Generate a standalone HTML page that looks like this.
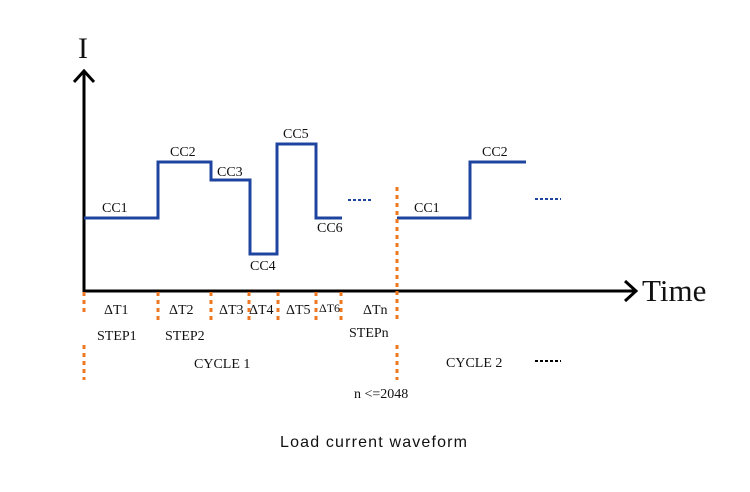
<!DOCTYPE html>
<html><head><meta charset="utf-8"><style>
html,body{margin:0;padding:0;background:#fff;}
svg{display:block;}
.s{font-family:"Liberation Serif",serif;fill:#111;}
</style></head><body>
<svg width="750" height="492" viewBox="0 0 750 492" xmlns="http://www.w3.org/2000/svg">
<!-- axes -->
<line x1="84" y1="72" x2="84" y2="292" stroke="#000" stroke-width="3"/>
<polyline points="74,82 84,71 94,82" fill="none" stroke="#000" stroke-width="3"/>
<line x1="83" y1="291" x2="635" y2="291" stroke="#000" stroke-width="3"/>
<polyline points="625,281 636,291 625,301" fill="none" stroke="#000" stroke-width="3"/>
<text x="78" y="58" class="s" font-size="30">I</text>
<text x="642" y="301" class="s" font-size="31">Time</text>
<!-- waveform -->
<polyline points="84,218 158,218 158,162 211,162 211,180 250,180 250,254 277,254 277,144 316,144 316,218 342,218" fill="none" stroke="#1f44a0" stroke-width="3"/>
<polyline points="397,218 470,218 470,162 526,162" fill="none" stroke="#1f44a0" stroke-width="3"/>
<line x1="348" y1="200" x2="373" y2="200" stroke="#1f44a0" stroke-width="2" stroke-dasharray="3,2"/>
<line x1="535" y1="199" x2="561" y2="199" stroke="#1f44a0" stroke-width="2" stroke-dasharray="3,2"/>
<line x1="535" y1="361" x2="561" y2="361" stroke="#000" stroke-width="2" stroke-dasharray="3,2"/>
<!-- orange dashes -->
<g stroke="#ee7722" stroke-width="3" stroke-dasharray="4,4">
<line x1="84" y1="292" x2="84" y2="312"/>
<line x1="84" y1="345" x2="84" y2="380"/>
<line x1="158" y1="292" x2="158" y2="321"/>
<line x1="211" y1="292" x2="211" y2="321"/>
<line x1="249" y1="292" x2="249" y2="321"/>
<line x1="278" y1="292" x2="278" y2="321"/>
<line x1="316" y1="292" x2="316" y2="321"/>
<line x1="341" y1="292" x2="341" y2="321"/>
<line x1="397" y1="187" x2="397" y2="321"/>
<line x1="397" y1="345" x2="397" y2="380"/>
</g>
<!-- labels -->
<g class="s" font-size="14">
<text x="102" y="212">CC1</text>
<text x="170" y="156">CC2</text>
<text x="217" y="176">CC3</text>
<text x="250" y="270">CC4</text>
<text x="283" y="138">CC5</text>
<text x="317" y="232">CC6</text>
<text x="414" y="212">CC1</text>
<text x="482" y="156">CC2</text>
<text x="104" y="314">ΔT1</text>
<text x="169" y="314">ΔT2</text>
<text x="219" y="314">ΔT3</text>
<text x="249" y="314">ΔT4</text>
<text x="286" y="314">ΔT5</text>
<text x="319" y="312" font-size="12">ΔT6</text>
<text x="363" y="314">ΔTn</text>
<text x="97" y="340">STEP1</text>
<text x="165" y="340">STEP2</text>
<text x="349" y="337">STEPn</text>
<text x="194" y="368">CYCLE 1</text>
<text x="446" y="367">CYCLE 2</text>
<text x="354" y="398">n &lt;=2048</text>
</g>
<text x="280" y="447" font-family="Liberation Sans, sans-serif" font-size="16" letter-spacing="1" textLength="188" fill="#111">Load current waveform</text>
</svg>
</body></html>
